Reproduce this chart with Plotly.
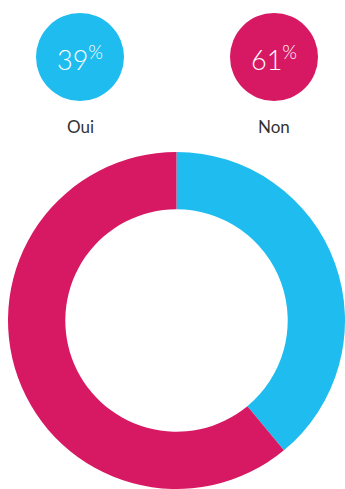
import plotly.graph_objects as go

# Survey answers and their shares (percent)
labels = ["Oui", "Non"]
values = [39, 61]
colors = ["#1EBCEF", "#D71863"]

W, H = 345, 489

fig = go.Figure()

# Donut split of the answers, clockwise from 12 o'clock
fig.add_trace(go.Pie(
    labels=labels,
    values=values,
    sort=False,
    direction="clockwise",
    rotation=0,
    hole=0.66,
    marker=dict(colors=colors, line=dict(width=0)),
    textinfo="none",
    hoverinfo="label+percent",
    showlegend=False,
    domain=dict(x=[8 / W, 1], y=[0, (H - 152) / H]),
))

# Summary bubbles above the donut, one per answer
bubble_x = [80, 274]
bubble_y = [57, 57]
fig.add_trace(go.Scatter(
    x=bubble_x,
    y=bubble_y,
    mode="markers",
    marker=dict(size=88, color=colors, line=dict(width=0)),
    hoverinfo="skip",
    showlegend=False,
))

for bx, by, lab, val in zip(bubble_x, bubble_y, labels, values):
    fig.add_annotation(
        x=bx, y=by + 1, xref="x", yref="y",
        text=f"{val}<sup>%</sup>",
        showarrow=False,
        font=dict(family="Lato", size=27, color="white", weight=300),
        xanchor="center", yanchor="middle",
    )
    fig.add_annotation(
        x=bx, y=126, xref="x", yref="y",
        text=lab,
        showarrow=False,
        font=dict(family="Lato", size=17, color="#333333", weight=400),
        xanchor="center", yanchor="middle",
    )

fig.update_layout(
    width=W, height=H,
    margin=dict(l=0, r=0, t=0, b=0),
    paper_bgcolor="white",
    plot_bgcolor="rgba(0,0,0,0)",
    xaxis=dict(range=[0, W], visible=False, fixedrange=True),
    yaxis=dict(range=[H, 0], visible=False, fixedrange=True),
)

fig.write_html("out.html")
